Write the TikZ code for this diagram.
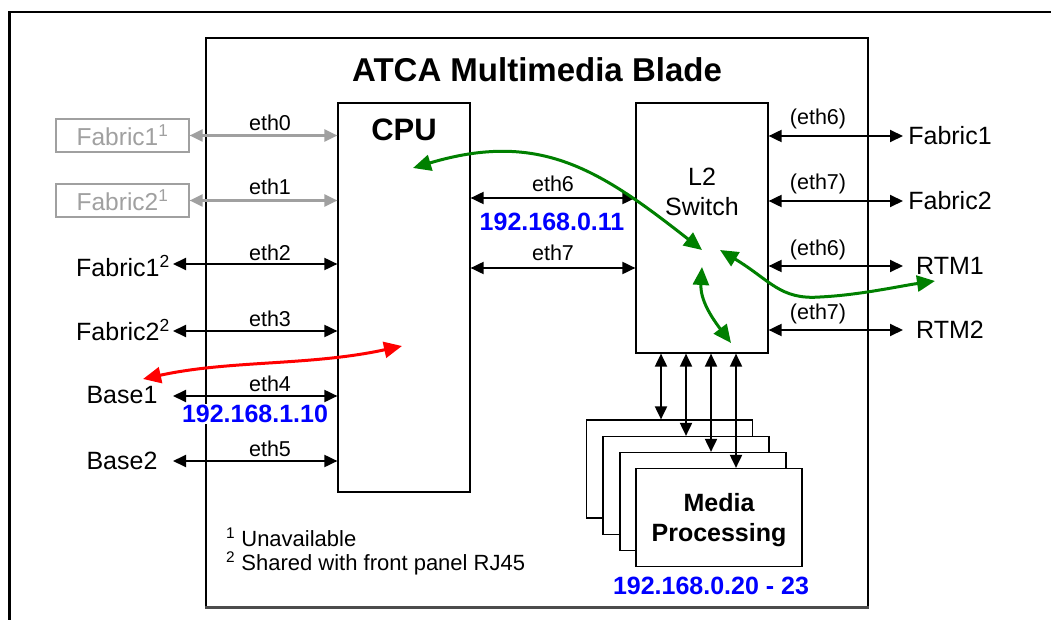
\documentclass[tikz,border=0pt]{standalone}
\usepackage{fontspec}
\setmainfont{Liberation Sans}
\usetikzlibrary{arrows.meta}
\definecolor{grn}{RGB}{0,128,0}
\definecolor{ipblue}{RGB}{0,0,255}
\definecolor{unav}{RGB}{160,160,160}
\definecolor{red1}{RGB}{255,0,0}
\begin{document}
\begin{tikzpicture}[x=1pt,y=-1pt,
  box/.style={draw,line width=1.2pt,fill=white,inner sep=0pt},
  biarrow/.style={line width=1.9pt,{Triangle[length=13pt,width=12pt]}-{Triangle[length=13pt,width=12pt]}},
  grayarrow/.style={biarrow,draw=unav,line width=2.1pt},
  bigarrow/.style={line width=3pt,{Triangle[length=18pt,width=16pt]}-{Triangle[length=18pt,width=16pt]}},
  lab/.style={font=\fontsize{25}{29}\selectfont,inner sep=0pt},
  eth/.style={font=\fontsize{21.5}{25}\selectfont,inner sep=0pt,anchor=base},
  ip/.style={font=\bfseries\fontsize{25}{30}\selectfont,text=ipblue,inner sep=1pt},
  unbox/.style={draw=unav,line width=1.2pt,text=unav,minimum width=133pt,minimum height=33pt,inner sep=0pt,font=\fontsize{24.5}{28}\selectfont}
]
\useasboundingbox (0,0) rectangle (1051,620);
% outer frame
\draw[line width=2.5pt] (9.5,620) -- (9.5,12) -- (1051,12);
% blade
\node[box,minimum width=662pt,minimum height=569pt] (blade) at (537,322.5) {};
\draw[line width=2.5pt,black!70] (blade.south west) -- (blade.south east);
\node[font=\bfseries\fontsize{33}{38}\selectfont,inner sep=0pt] (title) at (537,70) {ATCA Multimedia Blade};
% CPU
\node[box,minimum width=132pt,minimum height=389pt] (cpu) at (404,297.5) {};
\node[font=\bfseries\fontsize{31}{36}\selectfont,inner sep=0pt] (cputxt) at (404,130) {CPU};
% Switch
\node[box,minimum width=132pt,minimum height=250pt] (sw) at (702,228) {};
\node[lab] (swa) at (702,177) {L2};
\node[lab] (swb) at (702,207) {Switch};
% left side labels
\node[unbox] (f1u) at (122.5,135.5) {Fabric1\textsuperscript{1}};
\node[unbox] (f2u) at (122.5,200.5) {Fabric2\textsuperscript{1}};
\node[lab] (f1) at (123,266) {Fabric1\textsuperscript{2}};
\node[lab] (f2) at (123,330) {Fabric2\textsuperscript{2}};
\node[lab] (b1) at (122,395) {Base1};
\node[lab] (b2) at (122,461) {Base2};
% left arrows
\draw[grayarrow] (f1u.east) -- (f1u.east -| cpu.west);
\draw[grayarrow] (f2u.east) -- (f2u.east -| cpu.west);
\coordinate (p2) at (173,264);
\coordinate (p3) at (173,331);
\coordinate (p4) at (173,396);
\coordinate (p5) at (173,461);
\draw[biarrow] (p2) -- (p2 -| cpu.west);
\draw[biarrow] (p3) -- (p3 -| cpu.west);
\draw[biarrow] (p4) -- (p4 -| cpu.west);
\draw[biarrow] (p5) -- (p5 -| cpu.west);
\node[eth] (e0) at (270,131) {eth0};
\node[eth] (e1) at (270,195) {eth1};
\node[eth] (e2) at (270,260) {eth2};
\node[eth] (e3) at (270,326) {eth3};
\node[eth] (e4) at (270,391) {eth4};
\node[eth] (e5) at (270,456) {eth5};
\node[ip,fill=white] (ip1) at (255,414) {192.168.1.10};
% CPU - switch
\coordinate (q6) at (470,198);
\coordinate (q7) at (470,268);
\draw[biarrow] (q6 -| cpu.east) -- (q6 -| sw.west);
\draw[biarrow] (q7 -| cpu.east) -- (q7 -| sw.west);
\node[eth] (c6) at (553,192) {eth6};
\node[eth] (c7) at (553,261) {eth7};
\node[ip] (ip0) at (552,222) {192.168.0.11};
% right side
\node[lab] (rf1) at (950,136) {Fabric1};
\node[lab] (rf2) at (950,201) {Fabric2};
\node[lab] (rt1) at (950,266) {RTM1};
\node[lab] (rt2) at (950,330) {RTM2};
\coordinate (r1) at (903,136);
\coordinate (r2) at (903,201);
\coordinate (r3) at (903,266);
\coordinate (r4) at (903,330);
\draw[biarrow] (r1 -| sw.east) -- (r1);
\draw[biarrow] (r2 -| sw.east) -- (r2);
\draw[biarrow] (r3 -| sw.east) -- (r3);
\draw[biarrow] (r4 -| sw.east) -- (r4);
\node[eth] (s6a) at (818,125) {(eth6)};
\node[eth] (s7a) at (818,190) {(eth7)};
\node[eth] (s6b) at (818,255) {(eth6)};
\node[eth] (s7b) at (818,319) {(eth7)};
% media processing stack
\node[box,minimum width=166pt,minimum height=98pt] (mp1) at (669.5,469) {};
\node[box,minimum width=166pt,minimum height=98pt] (mp2) at (686,485.5) {};
\node[box,minimum width=166pt,minimum height=98pt] (mp3) at (703,501.5) {};
\node[box,minimum width=166pt,minimum height=98pt] (mp4) at (719,517.5) {};
\node[font=\bfseries\fontsize{25}{30}\selectfont,inner sep=0pt,anchor=base] (mpa) at (719,511) {Media};
\node[font=\bfseries\fontsize{25}{30}\selectfont,inner sep=0pt,anchor=base] (mpb) at (719,541) {Processing};
\node[ip] (ip2) at (711,586) {192.168.0.20 - 23};
\coordinate (v1) at (661,0);
\coordinate (v2) at (686,0);
\coordinate (v3) at (711,0);
\coordinate (v4) at (736,0);
\draw[biarrow] (v1 |- sw.south) -- (v1 |- mp1.north);
\draw[biarrow] (v2 |- sw.south) -- (v2 |- mp2.north);
\draw[biarrow] (v3 |- sw.south) -- (v3 |- mp3.north);
\draw[biarrow] (v4 |- sw.south) -- (v4 |- mp4.north);
% footnotes
\node[font=\fontsize{22}{24}\selectfont,inner sep=0pt,anchor=base west] (fn1) at (226,546) {\textsuperscript{1} Unavailable};
\node[font=\fontsize{22}{24}\selectfont,inner sep=0pt,anchor=base west] (fn2) at (226,570) {\textsuperscript{2} Shared with front panel RJ45};
% green flows
\coordinate (g1a) at (413,168);
\coordinate (g1b) at (702,250);
\draw[bigarrow,draw=grn] (g1a) .. controls (540,130) and (600,170) .. (g1b);
\coordinate (g2a) at (720,250);
\coordinate (g2m) at (820,297);
\coordinate (g2b) at (935,281);
\draw[bigarrow,draw=grn] (g2a) .. controls (770,280) and (780,300) .. (g2m) .. controls (860,295) and (900,286) .. (g2b);
\coordinate (g3a) at (702,267);
\coordinate (g3b) at (731,343);
\draw[bigarrow,draw=grn] (g3a) .. controls (700,300) and (712,318) .. (g3b);
% red flow
\coordinate (ra) at (143,379);
\coordinate (rb) at (402,346);
\draw[bigarrow,draw=red1] (ra) .. controls (230,360) and (310,366) .. (rb);
\end{tikzpicture}
\end{document}
